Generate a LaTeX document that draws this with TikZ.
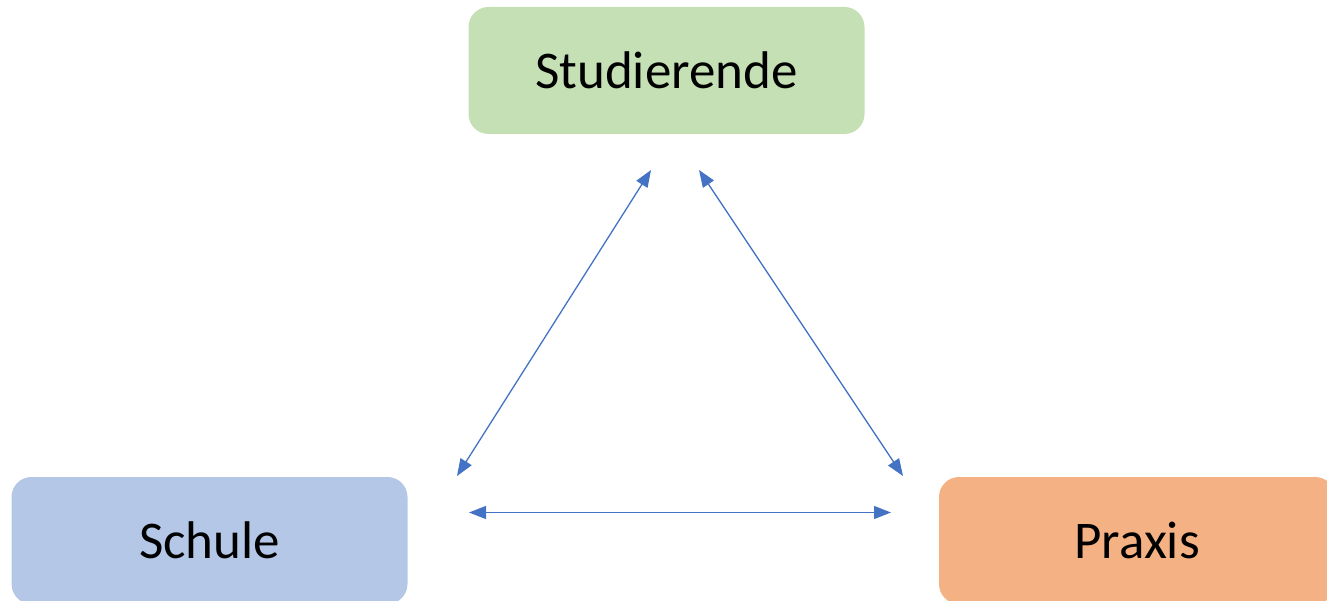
\documentclass[tikz,border=0pt]{standalone}
\usepackage{fontspec}
\setmainfont{Carlito}
\usetikzlibrary{arrows.meta}
\definecolor{boxgreen}{HTML}{C5E0B4}
\definecolor{boxblue}{HTML}{B4C7E7}
\definecolor{boxorange}{HTML}{F4B183}
\definecolor{arrowblue}{HTML}{4472C4}
\begin{document}
\begin{tikzpicture}[x=1pt,y=-1pt,
  box/.style={rounded corners=20pt, draw=none, minimum width=396pt, minimum height=127pt, inner sep=0pt,
    font=\fontsize{53}{60}\selectfont, text=black},
  link/.style={draw=arrowblue, line width=1.3pt, {Triangle[length=17pt,width=13pt]}-{Triangle[length=17pt,width=13pt]}}]
\useasboundingbox (0,0) rectangle (1327,601);
\begin{scope}
\clip (0,0) rectangle (1327,601);
\node[box, fill=boxgreen] (stud) at (666.5,70.5) {Studierende};
\node[box, fill=boxblue] (schule) at (209.5,540.5) {Schule};
\node[box, fill=boxorange] (praxis) at (1137,540.5) {Praxis};
\end{scope}
\coordinate (a1) at (651,170);
\coordinate (a2) at (457,476);
\coordinate (b1) at (699,170);
\coordinate (b2) at (903,476);
\coordinate (c1) at (469,512.5);
\coordinate (c2) at (891,512.5);
\draw[link] (a1) -- (a2);
\draw[link] (b1) -- (b2);
\draw[link] (c1) -- (c2);
\end{tikzpicture}
\end{document}
